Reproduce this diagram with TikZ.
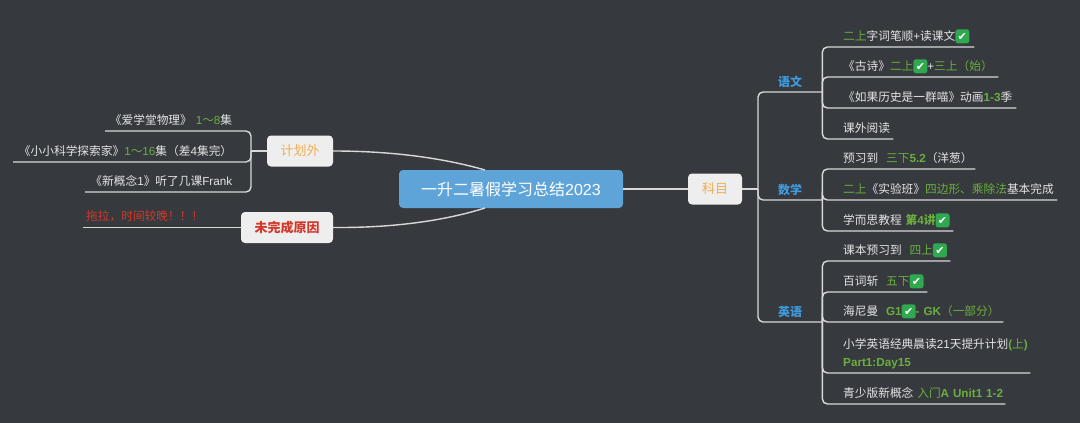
\documentclass[tikz,border=0pt]{standalone}
\usepackage{fontspec}
\setmainfont{Noto Sans CJK SC}
\newfontfamily\symfont{DejaVu Sans}
\newfontfamily\latfont{Liberation Sans}
\usepackage{tikz}

\definecolor{bgcol}{HTML}{36393E}
\definecolor{linecol}{HTML}{D8D8D8}
\definecolor{textcol}{HTML}{E4E4E4}
\definecolor{greencol}{HTML}{6AAF3D}
\definecolor{bluecol}{HTML}{3F9BDD}
\definecolor{orangecol}{HTML}{F3AC4E}
\definecolor{redcol}{HTML}{D0392B}
\definecolor{rootcol}{HTML}{5FA4D8}
\definecolor{tagcol}{HTML}{EEEEEE}
\definecolor{okcol}{HTML}{2FA84F}

\newcommand{\la}[1]{{\latfont #1}}
\newcommand{\gr}[1]{\textcolor{greencol}{#1}}
\newcommand{\grb}[1]{\textcolor{greencol}{\latfont\bfseries #1}}
\newcommand{\ok}{\tikz[baseline=(okmark.base)]\node[okbox] (okmark) {\symfont\char"2714};}

\tikzset{
  link/.style={draw=linecol,line width=1.4pt,rounded corners=5pt},
  rootbox/.style={fill=rootcol,text=white,rounded corners=4pt,minimum width=224pt,minimum height=38pt,inner sep=0pt,font=\fontsize{16}{18}\selectfont},
  tag/.style={fill=tagcol,rounded corners=4pt,minimum height=31pt,inner sep=0pt,font=\fontsize{13}{15}\selectfont},
  branch/.style={anchor=south west,inner sep=0pt,text width=64pt,align=center,text height=9pt,text depth=5.5pt,text=bluecol,font=\fontsize{12}{14}\selectfont\bfseries},
  leaf/.style={anchor=south west,inner sep=0pt,align=left,text height=9pt,text depth=6.5pt,text=textcol,font=\fontsize{11.7}{18}\selectfont},
  leafl/.style={leaf,align=right},
  okbox/.style={fill=okcol,text=white,rounded corners=2.5pt,minimum size=14pt,inner sep=0pt,text width=,align=center,text height=8pt,text depth=0pt,font=\fontsize{11}{11}\selectfont}
}

\begin{document}
\begin{tikzpicture}[x=1pt,y=-1pt]
  \fill[bgcol] (0,0) rectangle (1080,423);
  \useasboundingbox (0,0) rectangle (1080,423);

  % main boxes
  \node[rootbox] (root) at (511,189) {一升二暑假学习总结\la{2023}};
  \node[tag,minimum width=54pt,text=orangecol] (subject) at (715,189) {科目};
  \node[tag,minimum width=66pt,text=orangecol] (plan) at (300,151) {计划外};
  \node[tag,minimum width=92pt,text=redcol,font=\fontsize{13}{15}\selectfont\bfseries] (reason) at (287,227.5) {未完成原因};

  \coordinate (rootup) at (485,170);
  \coordinate (rootdown) at (485,208);
  \coordinate (subjectfork) at (758,189);
  \coordinate (planfork) at (251,151);

  \draw[link] (root.east) -- (subject.west);
  \draw[link] (plan.east) .. controls (400,151) and (450,160) .. (rootup);
  \draw[link] (reason.east) .. controls (400,228) and (450,219) .. (rootdown);

  % subjects
  \node[branch] (yuwen) at (758,92) {语文};
  \node[branch] (shuxue) at (758,200) {数学};
  \node[branch] (yingyu) at (758,322) {英语};

  \draw[link] (subject.east) -- (subjectfork);
  \draw[link] (subjectfork) |- (yuwen.south east);
  \draw[link] (subjectfork) |- (shuxue.south east);
  \draw[link] (subjectfork) |- (yingyu.south east);

  % yuwen
  \node[leaf,text width=131pt] (yw1) at (843,47) {\mbox{\gr{二上}字词笔顺\la{+}读课文\ok}};
  \node[leaf,text width=155pt] (yw2) at (843,77) {\mbox{《古诗》\gr{二上}\ok\la{+}\gr{三上（始）}}};
  \node[leaf,text width=173pt] (yw3) at (843,108) {\mbox{《如果历史是一群喵》动画\grb{1-3}季}};
  \node[leaf,text width=50pt] (yw4) at (843,139) {课外阅读};

  \draw[link] (yuwen.south east) |- (yw1.south east);
  \draw[link] (yuwen.south east) |- (yw2.south east);
  \draw[link] (yuwen.south east) |- (yw3.south east);
  \draw[link] (yuwen.south east) |- (yw4.south east);

  % shuxue
  \node[leaf,text width=132pt] (sx1) at (843,169) {\mbox{预习到 \ \gr{三下}\grb{5.2}（洋葱）}};
  \node[leaf,text width=214pt] (sx2) at (843,200) {\mbox{\gr{二上}《实验班》\gr{四边形、乘除法}基本完成}};
  \node[leaf,text width=110pt] (sx3) at (843,231) {\mbox{学而思教程 \gr{\textbf{第}}\grb{4}\gr{\textbf{讲}}\ok}};

  \draw[link] (shuxue.south east) |- (sx1.south east);
  \draw[link] (shuxue.south east) |- (sx2.south east);
  \draw[link] (shuxue.south east) |- (sx3.south east);

  % yingyu
  \node[leaf,text width=107pt] (yy1) at (843,261) {\mbox{课本预习到 \ \gr{四上}\ok}};
  \node[leaf,text width=84pt] (yy2) at (843,292) {\mbox{百词斩 \ \gr{五下}\ok}};
  \node[leaf,text width=160pt] (yy3) at (843,322) {\mbox{海尼曼 \ \grb{G1}\ok\grb{- GK}\gr{（一部分）}}};
  \node[leaf,text width=187pt,text depth=24.5pt] (yy4) at (843,373) {\mbox{小学英语经典晨读\la{21}天提升计划\grb{(}\gr{上}\grb{)}}\\\grb{Part1:Day15}};
  \node[leaf,text width=162pt] (yy5) at (843,404) {\mbox{青少版新概念 \gr{入门}\grb{A Unit1 1-2}}};

  \draw[link] (yingyu.south east) |- (yy1.south east);
  \draw[link] (yingyu.south east) |- (yy2.south east);
  \draw[link] (yingyu.south east) |- (yy3.south east);
  \draw[link] (yingyu.south east) |- (yy4.south east);
  \draw[link] (yingyu.south east) |- (yy5.south east);

  % left side
  \node[leafl,text width=127pt] (pl1) at (105,131) {《爱学堂物理》 \gr{\la{1}～\la{8}}集};
  \node[leafl,text width=219pt] (pl2) at (13,162) {《小小科学探索家》\gr{\la{1}～\la{16}}集（差\la{4}集完）};
  \node[leafl,text width=147pt] (pl3) at (85,192) {《新概念\la{1}》听了几课\la{Frank}};
  \node[leaf,text width=158pt,text=redcol] (rs1) at (83,227.5) {\hspace{3pt}拖拉，时间较晚！！！};

  \draw[link] (plan.west) -- (planfork);
  \draw[link] (planfork) |- (pl1.south west);
  \draw[link] (planfork) |- (pl2.south west);
  \draw[link] (planfork) |- (pl3.south west);
  \draw[link] (reason.west) -- (rs1.south west);
\end{tikzpicture}
\end{document}
